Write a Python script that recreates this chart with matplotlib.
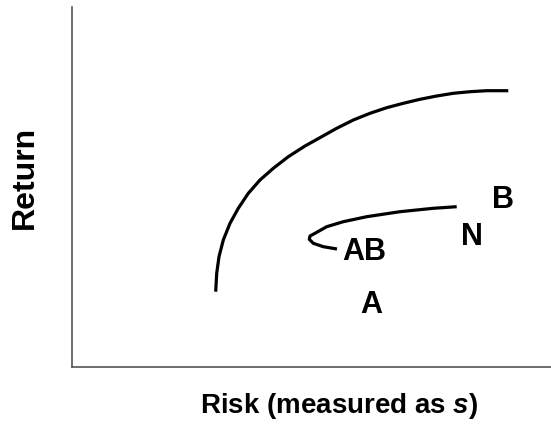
import matplotlib
matplotlib.use("Agg")
from matplotlib import pyplot as plt

plt.rcParams['font.family'] = ['Liberation Sans', 'DejaVu Sans']
plt.rcParams['mathtext.fontset'] = 'custom'
plt.rcParams['mathtext.it'] = 'Liberation Sans:bold:italic'
plt.rcParams['mathtext.rm'] = 'Liberation Sans:bold'

# efficient frontier (upper curve)
frontier_risk = [14.37, 14.47, 14.7, 15.13, 15.8, 16.63, 17.63, 18.8, 20.13, 21.63, 23.3, 24.97,
                 26.47, 28.13, 29.8, 31.47, 33.13, 34.8, 36.47, 38.13, 39.8, 41.47, 43.63]
frontier_return = [7.53, 9.37, 11.03, 12.7, 14.37, 15.87, 17.37, 18.7, 19.87, 21.03, 22.1, 23.03,
                   23.87, 24.7, 25.37, 25.93, 26.37, 26.77, 27.1, 27.37, 27.53, 27.63, 27.63]

# combination curve of A and B (lower curve)
combo_risk = [26.5, 25.13, 24.13, 23.73, 23.8, 24.3, 25.47, 27.13, 29.47, 32.8, 36.13, 38.47]
combo_return = [11.8, 12.03, 12.37, 12.77, 13.1, 13.37, 14.03, 14.53, 15.03, 15.53, 15.87, 16.03]

# point labels (x, baseline y)
labels = ['A', 'AB', 'N', 'B']
label_risk = [29.9, 29.2, 40.0, 43.1]
label_return = [5.4, 10.7, 12.2, 15.9]

fig = plt.figure(figsize=(5.51, 4.29), dpi=100)
ax = fig.add_axes([72 / 551, 62 / 429, 479 / 551, 360 / 429])

ax.plot(frontier_risk, frontier_return, color='black', lw=2.3,
        solid_capstyle='butt', solid_joinstyle='round')
ax.plot(combo_risk, combo_return, color='black', lw=2.3,
        solid_capstyle='butt', solid_joinstyle='round')

for lab, x, y in zip(labels, label_risk, label_return):
    ax.text(x, y, lab, fontsize=22, fontweight='bold', ha='center', va='baseline')

ax.set_xlim(0, 47.9)
ax.set_ylim(0, 36)
ax.set_xticks([])
ax.set_yticks([])
for side in ['top', 'right']:
    ax.spines[side].set_visible(False)
for side in ['left', 'bottom']:
    ax.spines[side].set_color('#555555')
    ax.spines[side].set_linewidth(1.2)

fig.text(339 / 551, 1 - 406 / 429, 'Risk (measured as $s$)', fontsize=20, fontweight='bold',
         ha='center', va='center')
fig.text(25 / 551, 1 - 177 / 429, 'Return', fontsize=23, fontweight='bold', rotation=90,
         ha='center', va='center')

fig.savefig('out.png', dpi=100)
